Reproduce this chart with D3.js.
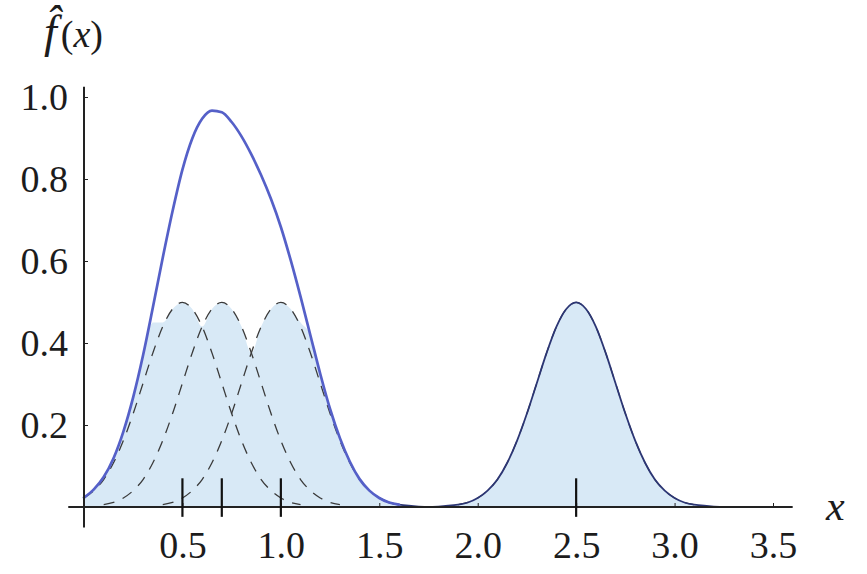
<!DOCTYPE html>
<html>
<head>
<meta charset="utf-8">
<script src="https://cdn.jsdelivr.net/npm/d3@7"></script>
<style>
  body { margin: 0; background: #fff; }
  #chart text, #chart tspan { font-family: 'Liberation Serif', serif !important; }
</style>
</head>
<body>
<svg id="chart" width="867" height="574"></svg>
<script>
// observations (rug marks) and axis ticks
const observations = [0.5, 0.7, 1.0, 2.5];
const xTicks = [0.5, 1.0, 1.5, 2.0, 2.5, 3.0, 3.5];
const yTicks = [0.2, 0.4, 0.6, 0.8, 1.0];

const kernelStart = [0.0, 0.0, 0.3, 1.8];
const kernel05 = [0.022, 0.040, 0.067, 0.108, 0.162, 0.228, 0.302, 0.376, 0.440, 0.483, 0.499,
  0.483, 0.440, 0.376, 0.302, 0.228, 0.162, 0.108, 0.067, 0.040, 0.022, 0.011, 0.006, 0.003, 0.001];
const kernel07 = [0.001, 0.003, 0.006, 0.011, 0.022, 0.040, 0.067, 0.108, 0.162, 0.228, 0.302,
  0.376, 0.440, 0.483, 0.499, 0.483, 0.440, 0.376, 0.302, 0.228, 0.162, 0.108, 0.067, 0.040,
  0.022, 0.011, 0.006, 0.003, 0.001];
const kernel10 = [0.001, 0.003, 0.006, 0.011, 0.022, 0.040, 0.067, 0.108, 0.162, 0.228, 0.302,
  0.376, 0.440, 0.483, 0.499, 0.483, 0.440, 0.376, 0.302, 0.228, 0.162, 0.108, 0.067, 0.040,
  0.022, 0.011, 0.006, 0.003, 0.001];
const kernel25 = [0.001, 0.003, 0.006, 0.011, 0.022, 0.040, 0.067, 0.108, 0.162, 0.228, 0.302,
  0.376, 0.440, 0.483, 0.499, 0.483, 0.440, 0.376, 0.302, 0.228, 0.162, 0.108, 0.067, 0.040,
  0.022, 0.011, 0.006, 0.003, 0.001];
const kernels = [kernel05, kernel07, kernel10, kernel25];

const step = 0.05;
const gridCount = 71; // 0 .. 3.5
const labelFont = 'Liberation Serif';

const svg = d3.select('#chart');

const xScale = d3.scaleLinear().domain([0, 3.5]).range([84, 773]);
const yScale = d3.scaleLinear().domain([0, 1]).range([507, 97]);

// put every kernel on one common grid so they can be added up
const xGrid = d3.range(gridCount).map(i => +(i * step).toFixed(2));
const kernelsOnGrid = kernels.map((vals, k) => {
  const off = Math.round(kernelStart[k] / step);
  return xGrid.map((_, i) => (i - off >= 0 && i - off < vals.length) ? vals[i - off] : 0);
});
const density = xGrid.map((_, i) => d3.sum(kernelsOnGrid, kg => kg[i]));

// shaded band: kernel envelope between the clustered points, density on the flanks
const fillTop = xGrid.map((xv, i) => {
  const mk = d3.max(kernelsOnGrid, kg => kg[i]);
  if (xv >= observations[0] && xv <= observations[2]) return mk;
  return Math.min(density[i], Math.max(mk, 0.45));
});

// fill
svg.append('path')
  .datum(fillTop)
  .attr('fill', '#d8e9f6')
  .attr('d', d3.area()
    .x((d, i) => xScale(xGrid[i]))
    .y0(yScale(0))
    .y1(d => yScale(d))
    .curve(d3.curveMonotoneX));

// dashed kernels
kernels.forEach((vals, k) => {
  svg.append('path')
    .datum(vals)
    .attr('fill', 'none')
    .attr('stroke', '#3a3a3a')
    .attr('stroke-width', 1.3)
    .attr('stroke-dasharray', '11,9')
    .attr('d', d3.line()
      .defined(d => d > 0.004)
      .x((d, i) => xScale(kernelStart[k] + i * step))
      .y(d => yScale(d))
      .curve(d3.curveMonotoneX));
});

// density estimate: brighter and heavier over the cluster, thin navy over the lone point
const densityLine = d3.line()
  .x(d => xScale(d[0]))
  .y(d => yScale(d[1]))
  .curve(d3.curveMonotoneX);
const densityPts = xGrid.map((xv, i) => [xv, density[i]]);
svg.append('path')
  .datum(densityPts.filter(d => d[0] >= 1.5))
  .attr('fill', 'none')
  .attr('stroke', '#2c3674')
  .attr('stroke-width', 1.8)
  .attr('d', densityLine);
svg.append('path')
  .datum(densityPts.filter(d => d[0] <= 1.6))
  .attr('fill', 'none')
  .attr('stroke', '#5560c8')
  .attr('stroke-width', 2.7)
  .attr('stroke-linecap', 'round')
  .attr('d', densityLine);

// axes
const xAxis = svg.append('g')
  .attr('transform', 'translate(0,' + yScale(0) + ')')
  .call(d3.axisBottom(xScale).tickValues(xTicks).tickSize(-4).tickFormat(d3.format('.1f')));
xAxis.attr('font-family', labelFont).attr('font-size', 38);
xAxis.select('.domain').remove();
xAxis.selectAll('.tick line').attr('stroke', '#222');
xAxis.selectAll('.tick text')
  .attr('y', 51).attr('dy', null)
  .attr('fill', '#1c1c1c')
  .style('font-family', labelFont, 'important')
  .style('font-size', '38px');
xAxis.append('line')
  .attr('x1', xScale(-0.08)).attr('x2', xScale(3.6))
  .attr('stroke', '#222').attr('stroke-width', 2);

const yAxis = svg.append('g')
  .attr('transform', 'translate(' + xScale(0) + ',0)')
  .call(d3.axisLeft(yScale).tickValues(yTicks).tickSize(-4).tickFormat(d3.format('.1f')));
yAxis.attr('font-family', labelFont).attr('font-size', 38);
yAxis.select('.domain').remove();
yAxis.selectAll('.tick line').attr('stroke', '#222');
yAxis.selectAll('.tick text')
  .attr('x', -16).attr('dy', '0.33em')
  .attr('fill', '#1c1c1c')
  .style('font-family', labelFont, 'important')
  .style('font-size', '38px');
yAxis.append('line')
  .attr('y1', yScale(-0.05)).attr('y2', yScale(1.025))
  .attr('stroke', '#222').attr('stroke-width', 2);

// rug marks for the observations
svg.append('g').selectAll('line')
  .data(observations)
  .join('line')
  .attr('x1', d => xScale(d)).attr('x2', d => xScale(d))
  .attr('y1', yScale(-0.024)).attr('y2', yScale(0.07))
  .attr('stroke', '#111').attr('stroke-width', 2.2);

// axis labels
svg.append('text')
  .attr('x', 826).attr('y', 520)
  .attr('fill', '#1c1c1c')
  .style('font-family', labelFont, 'important')
  .style('font-size', '42px')
  .style('font-style', 'italic')
  .text('x');

const fLabel = svg.append('text')
  .attr('x', 44).attr('y', 47)
  .attr('fill', '#1c1c1c')
  .style('font-family', labelFont, 'important');
fLabel.append('tspan').style('font-size', '46px').style('font-style', 'italic').text('f\u0302');
fLabel.append('tspan').style('font-size', '38px').attr('dx', 4).text('(');
fLabel.append('tspan').style('font-size', '38px').style('font-style', 'italic').text('x');
fLabel.append('tspan').style('font-size', '38px').text(')');
</script>
</body>
</html>
